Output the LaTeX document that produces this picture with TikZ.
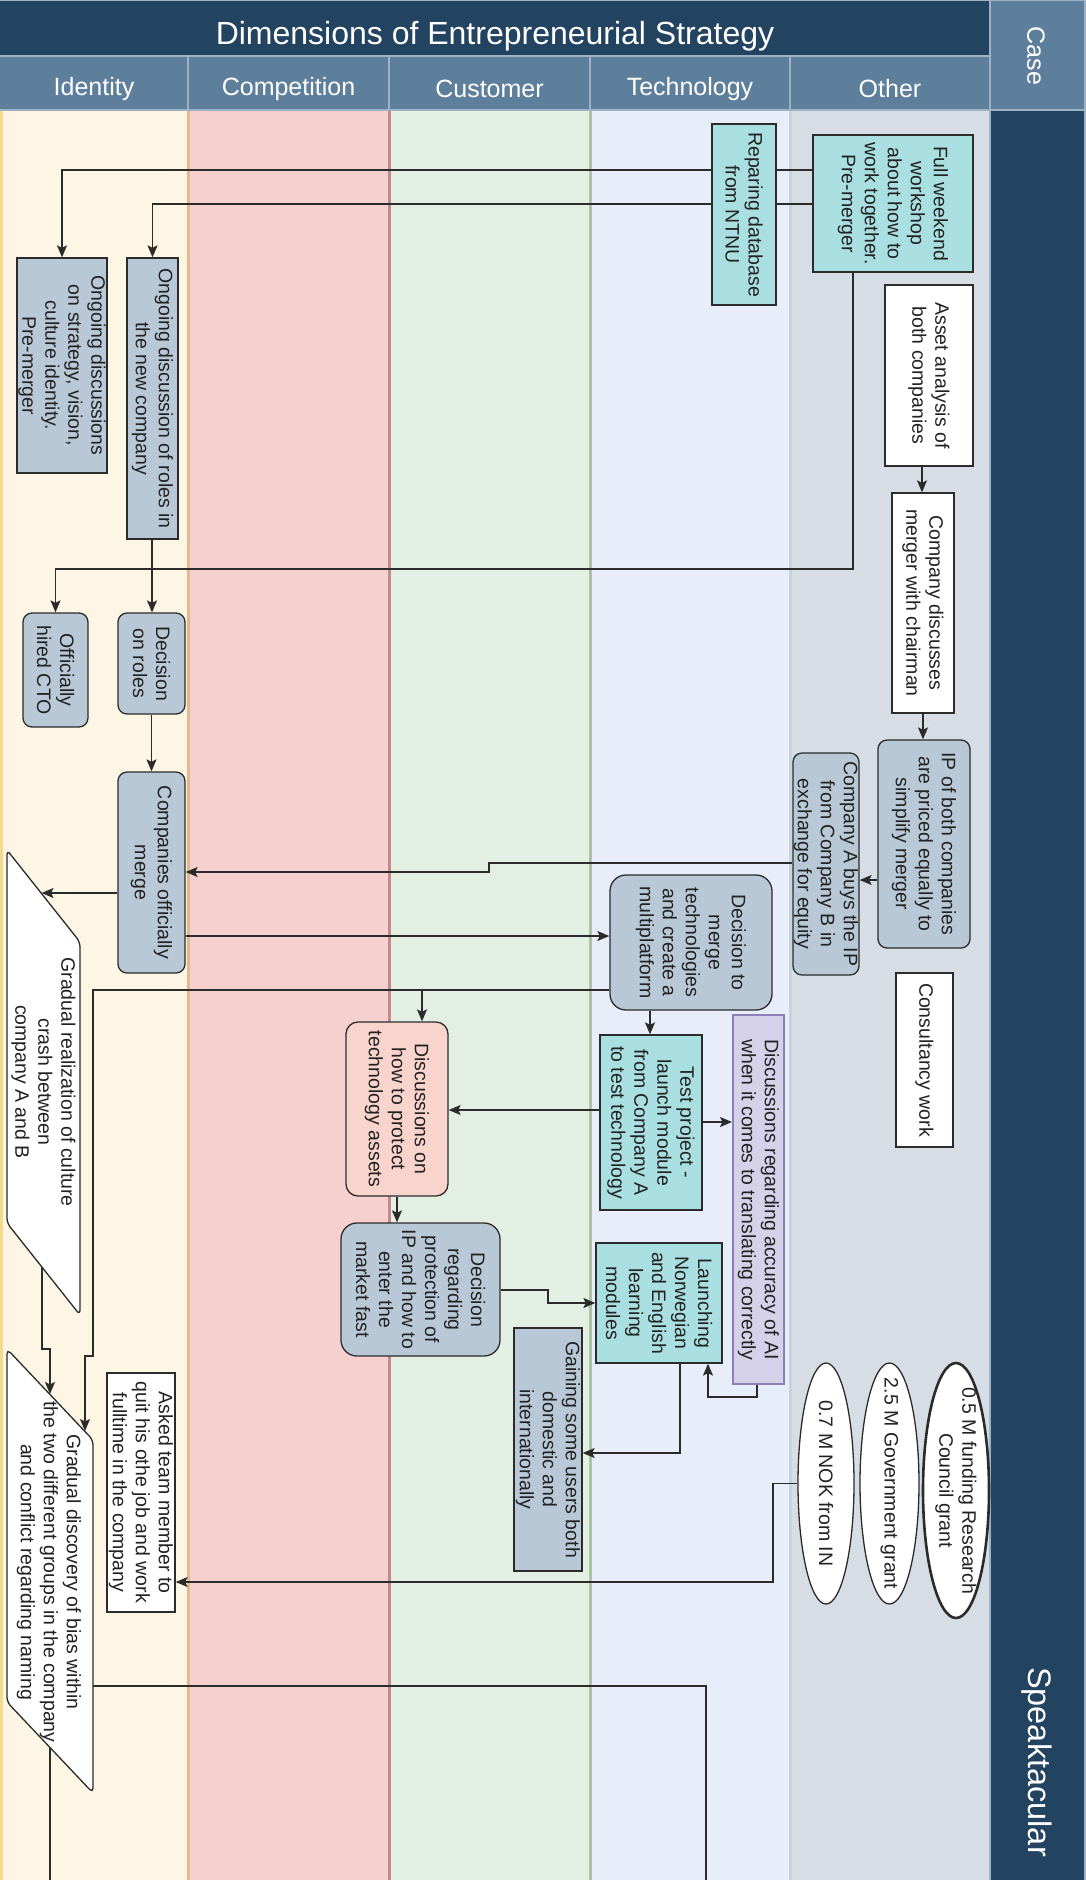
\documentclass[tikz,border=0pt]{standalone}
\usepackage{fontspec}
\setmainfont{Liberation Sans}
\usetikzlibrary{arrows.meta,shapes.geometric}
\pgfdeclarelayer{bg}
\pgfdeclarelayer{conn}
\pgfsetlayers{bg,conn,main}
\definecolor{navy}{HTML}{234461}
\definecolor{steel}{HTML}{5E7F9B}
\definecolor{hdrline}{HTML}{9DB2C4}
\definecolor{laneA}{HTML}{FEF6E4}
\definecolor{laneB}{HTML}{F6D0CF}
\definecolor{laneC}{HTML}{E3EFE2}
\definecolor{laneD}{HTML}{E8EEF9}
\definecolor{laneE}{HTML}{D6DDE5}
\definecolor{sepA}{HTML}{E2B98E}
\definecolor{sepB}{HTML}{C48A8A}
\definecolor{sepC}{HTML}{A9C4A5}
\definecolor{sepD}{HTML}{C9D3DE}
\definecolor{sepY}{HTML}{F2DC8C}
\definecolor{cyanfill}{HTML}{A9DFE0}
\definecolor{grayfill}{HTML}{B9C8D6}
\definecolor{pinkfill}{HTML}{F9D4CD}
\definecolor{lavfill}{HTML}{D5D1E8}
\definecolor{lavborder}{HTML}{8C80B8}
\definecolor{linec}{HTML}{2B2B2B}
\definecolor{textc}{HTML}{222222}
\tikzset{
  base/.style={draw=linec, line width=1.3pt, inner sep=0pt},
  cyanbox/.style={base, fill=cyanfill},
  whitebox/.style={base, fill=white},
  graybox/.style={base, fill=grayfill},
  grayrbox/.style={graybox, rounded corners=9pt},
  pinkbox/.style={base, fill=pinkfill, rounded corners=12pt},
  aibox/.style={base, fill=lavfill, draw=lavborder, line width=2pt},
  ellbox/.style={base, ellipse, fill=white},
  lbl/.style={rotate=-90, align=center, inner sep=0pt, text=textc, font=\fontsize{19.5}{23}\selectfont},
  hdr/.style={text=white, inner sep=0pt, font=\fontsize{25}{30}\selectfont},
  arr/.style={draw=linec, line width=1.4pt, -{Stealth[length=12pt, width=10pt, inset=2.5pt]}},
  ln/.style={draw=linec, line width=1.4pt},
}
\newcommand\bx[7]{%
  \pgfmathsetmacro\bxcx{(#3+#5)/2}\pgfmathsetmacro\bxcy{(#4+#6)/2}%
  \pgfmathsetmacro\bxw{#5-#3}\pgfmathsetmacro\bxh{#6-#4}%
  \node[#1, minimum width=\bxw pt, minimum height=\bxh pt] (#2) at (\bxcx,\bxcy) {};
  \node[lbl] (#2-t) at (#2.center) {#7};}
\begin{document}
\begin{tikzpicture}[x=1pt,y=-1pt]
\useasboundingbox (0,0) rectangle (1086,1880);
\begin{pgfonlayer}{bg}
  \fill[laneA] (0,110) rectangle (188,1880);
  \fill[laneB] (188,110) rectangle (389,1880);
  \fill[laneC] (389,110) rectangle (590,1880);
  \fill[laneD] (590,110) rectangle (790,1880);
  \fill[laneE] (790,110) rectangle (990,1880);
  \draw[sepY, line width=3pt] (1.5,110) -- (1.5,1880);
  \draw[sepA, line width=3pt] (188,110) -- (188,1880);
  \draw[sepB, line width=3pt] (389,110) -- (389,1880);
  \draw[sepC, line width=3pt] (590,110) -- (590,1880);
  \draw[sepD, line width=3pt] (790,110) -- (790,1880);
  \fill[navy] (0,0) rectangle (990,56);
  \fill[steel] (0,56) rectangle (990,110);
  \fill[steel] (990,0) rectangle (1086,110);
  \fill[navy] (990,110) rectangle (1086,1880);
  \draw[hdrline, line width=2pt] (0,56) -- (990,56);
  \draw[hdrline, line width=2pt] (0,110) -- (1086,110);
  \draw[hdrline, line width=2pt] (990,0) -- (990,1880);
  \draw[hdrline, line width=2pt] (1085,0) -- (1085,1880);
  \draw[hdrline, line width=1pt] (0,0.5) -- (1086,0.5);
  \foreach \xx in {188,389,590,790} \draw[hdrline, line width=2pt] (\xx,56) -- (\xx,110);
\end{pgfonlayer}
% header texts
\node[hdr, font=\fontsize{32}{38}\selectfont] (title) at (495,36) {Dimensions of Entrepreneurial Strategy};
\node[hdr] (h1) at (94,89) {Identity};
\node[hdr] (h2) at (288.5,89) {Competition};
\node[hdr] (h3) at (489.5,89) {Customer};
\node[hdr] (h4) at (690,89) {Technology};
\node[hdr] (h5) at (890,89) {Other};
\node[hdr, rotate=-90] (hcase) at (1036,56) {Case};
\node[hdr, rotate=-90, font=\fontsize{32.5}{38}\selectfont] (speak) at (1037,1762) {Speaktacular};
% Other lane
\bx{cyanbox}{fw}{813}{135}{973}{272}{Full weekend\\workshop\\about how to\\work together.\\Pre-merger}
\bx{whitebox}{asset}{885}{285}{973}{466}{Asset analysis of\\both companies}
\bx{whitebox}{chair}{892}{493}{954}{713}{Company discusses\\merger with chairman}
\bx{grayrbox}{ip}{878}{740}{970}{948}{IP of both companies\\are priced equally to\\simplify merger}
\bx{grayrbox}{buy}{793}{753}{859}{975}{Company A buys the IP\\from Company B in\\exchange for equity}
\bx{whitebox}{cons}{896}{973}{953}{1147}{Consultancy work}
\node[ellbox, line width=2.6pt, minimum width=66pt, minimum height=255pt] (e05) at (956,1490.5) {};
\node[lbl] (e05-t) at (e05.center) {0.5 M funding Research\\Council grant};
\node[ellbox, minimum width=59pt, minimum height=241pt] (e25) at (889.5,1483.5) {};
\node[lbl] (e25-t) at (e25.center) {2.5 M Government grant};
\node[ellbox, minimum width=56pt, minimum height=241pt] (e07) at (826,1483.5) {};
\node[lbl] (e07-t) at (e07.center) {0.7 M NOK from IN};
% Technology lane
\bx{cyanbox}{rep}{712}{124}{776}{305}{Reparing database\\from NTNU}
\bx{grayrbox, rounded corners=16pt}{dmt}{610}{875}{772}{1010}{Decision to\\merge\\technologies\\and create a\\multiplatform}
\bx{aibox}{ai}{733}{1015}{784}{1384}{Discussions regarding accuracy of AI\\when it comes to translating correctly}
\bx{cyanbox}{test}{600}{1035}{702}{1210}{Test project -\\launch module\\from Company A\\to test technology}
\bx{cyanbox}{launch}{596}{1243}{722}{1363}{Launching\\Norwegian\\and English\\learning\\modules}
% Customer lane
\bx{graybox}{gain}{514}{1328}{582}{1571}{Gaining some users both\\domestic and\\internationally}
% Competition lane
\bx{pinkbox}{dprot}{346}{1022}{448}{1196}{Discussions on\\how to protect\\technology assets}
\bx{grayrbox, rounded corners=16pt}{decip}{341}{1223}{500}{1356}{Decision\\regarding\\protection of\\IP and how to\\enter the\\market fast}
% Identity lane
\bx{graybox}{ods}{17}{258}{107}{473}{Ongoing discussions\\on strategy, vision,\\culture identity.\\Pre-merger}
\bx{graybox}{odr}{127}{258}{178}{539}{Ongoing discussion of roles in\\the new company}
\bx{grayrbox}{dor}{118}{613}{185}{714}{Decision\\on roles}
\bx{grayrbox}{cto}{23}{613}{88}{727}{Officially\\hired CTO}
\bx{grayrbox}{merge}{118}{772}{185}{973}{Companies officially\\merge}
\bx{whitebox}{ask}{107}{1373}{175}{1612}{Asked team member to\\quit his othe job and work\\fulltime in the company}
% parallelograms
\coordinate (p1a) at (7,850);
\coordinate (p1b) at (80,942);
\coordinate (p1c) at (80,1315);
\coordinate (p1d) at (7,1223);
\draw[base, fill=white, rounded corners=5pt] (p1a) -- (p1b) -- (p1c) -- (p1d) -- cycle;
\node[lbl] (par1) at (43.5,1082) {Gradual realization of culture\\crash between\\company A and B};
\coordinate (p2a) at (7,1349);
\coordinate (p2b) at (93,1440);
\coordinate (p2c) at (93,1793);
\coordinate (p2d) at (7,1702);
\draw[base, fill=white, rounded corners=5pt] (p2a) -- (p2b) -- (p2c) -- (p2d) -- cycle;
\node[lbl] (par2) at (49,1572) {Gradual discovery of bias within\\the two different groups in the company\\and conflict regarding naming};
\coordinate (p1in) at (41.5,893);
\coordinate (p1out) at (42,1267);
\coordinate (p2in) at (85,1431);
\coordinate (p2in2) at (50,1394);
\coordinate (p2out) at (50,1747);
\coordinate (p2east) at (93,1686);
\coordinate (end1) at (706,1880);
\coordinate (end2) at (50,1880);
% connectors
\begin{pgfonlayer}{conn}
  \draw[arr] (fw.west |- 0,170) -| (ods.north);
  \draw[arr] (fw.west |- 0,204) -| (odr.north);
  \draw[arr] (fw.south -| 853,0) |- (cto.north |- 0,569) -- (cto.north);
  \draw[arr] (odr.south -| 152,0) -- (dor.north -| 152,0);
  \draw[arr] (dor.south) -- (merge.north);
  \draw[arr] (asset.south -| 922,0) -- (chair.north -| 922,0);
  \draw[arr] (chair.south -| 923,0) -- (ip.north -| 923,0);
  \draw[arr] (ip.west |- 0,880) -- (buy.east |- 0,880);
  \draw[arr] (buy.west |- 0,863) -- (489,863) -- (489,872) -- (merge.east |- 0,872);
  \draw[arr] (merge.west |- 0,893) -- (p1in);
  \draw[arr] (merge.east |- 0,936) -- (dmt.west |- 0,936);
  \draw[arr] (dmt.west |- 0,990) -- (93,990) -- (93,1356) -- (85,1356) -- (p2in);
  \draw[arr] (422,990) -- (dprot.north -| 422,0);
  \draw[arr] (dmt.south -| 650,0) -- (test.north -| 650,0);
  \draw[arr] (test.west |- 0,1110) -- (dprot.east |- 0,1110);
  \draw[arr] (test.east |- 0,1122) -- (ai.west |- 0,1122);
  \draw[arr] (dprot.south -| 397,0) -- (decip.north -| 397,0);
  \draw[arr] (decip.east |- 0,1290) -- (548,1290) -- (548,1303) -- (launch.west |- 0,1303);
  \draw[arr] (ai.south -| 757,0) -- (757,1397) -- (708,1397) -- (launch.south -| 708,0);
  \draw[arr] (launch.south -| 680,0) |- (gain.east |- 0,1453);
  \draw[arr] (e07.west) -- (773,1483.5) -- (773,1582) -- (ask.east |- 0,1582);
  \draw[arr] (p1out) -- (42,1349) -- (50,1349) -- (p2in2);
  \draw[ln] (p2east) -- (706,1686) -- (end1);
  \draw[ln] (p2out) -- (end2);
\end{pgfonlayer}
\end{tikzpicture}
\end{document}
